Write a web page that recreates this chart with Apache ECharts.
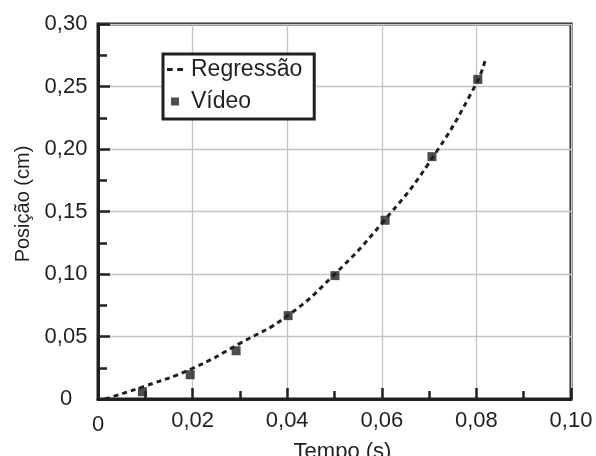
<!DOCTYPE html>
<html>
<head>
<meta charset="utf-8">
<script src="https://cdn.jsdelivr.net/npm/echarts@6/dist/echarts.min.js"></script>
<style>
  html, body { margin: 0; padding: 0; background: #fff; }
  #chart { width: 596px; height: 456px; }
</style>
</head>
<body>
<div id="chart"></div>
<script>
// pontos medidos no video
var tempo   = [0.0094, 0.0195, 0.0292, 0.0402, 0.0501, 0.0607, 0.0706, 0.0803];
var posicao = [0.0058, 0.0194, 0.0386, 0.0667, 0.0987, 0.1430, 0.1939, 0.2557];

// curva de regressao
var regTempo   = [0.0015, 0.01, 0.02, 0.03, 0.04, 0.05, 0.06, 0.07, 0.08, 0.082];
var regPosicao = [0, 0.0104, 0.0245, 0.0445, 0.0664, 0.0997, 0.1405, 0.189, 0.2525, 0.2733];

var xTicks = [0, 0.02, 0.04, 0.06, 0.08, 0.10];
var yTicks = [0, 0.05, 0.10, 0.15, 0.20, 0.25, 0.30];

var ink = '#231f20';
var tickFont = 'Liberation Sans';
var textFont = 'Liberation Sans';

var pairs = function (xs, ys) {
    var res = [];
    for (var i = 0; i < xs.length; i++) {
        res.push([xs[i], ys[i]]);
    }
    return res;
};

var fmt = function (v) {
    if (Math.abs(v) < 1e-9) return '0';
    return v.toFixed(2).replace('.', ',');
};

var chart = echarts.init(document.getElementById('chart'));

var option = {
    backgroundColor: '#fff',
    animation: false,
    grid: {
        left: 98, right: 25, top: 24, bottom: 57,
        show: true,
        borderColor: ink,
        borderWidth: 3,
        outerBoundsMode: 'none'
    },
    legend: {
        orient: 'vertical',
        left: 163,
        top: 54,
        padding: [4, 12, 6, 4],
        itemWidth: 16,
        itemHeight: 8,
        itemGap: 9,
        backgroundColor: '#fff',
        borderColor: ink,
        borderWidth: 3,
        borderRadius: 0,
        textStyle: { fontFamily: textFont, fontSize: 23, color: ink, padding: [0, 0, 0, 3] },
        data: [
            { name: 'Regressão', icon: 'path://M0,0h5v2.5h-5zM9,0h5v2.5h-5z', itemStyle: { color: ink } },
            { name: 'Vídeo', icon: 'path://M0,0h8v8h-8z', itemStyle: { color: ink } }
        ]
    },
    xAxis: {
        type: 'value',
        min: xTicks[0],
        max: xTicks[xTicks.length - 1],
        interval: 0.02,
        name: 'Tempo (s)',
        nameLocation: 'middle',
        nameGap: 35,
        nameTextStyle: { fontFamily: textFont, fontSize: 22, color: ink, padding: [0, 0, 0, 16] },
        axisLine: { onZero: false, lineStyle: { color: ink, width: 3 } },
        axisTick: { inside: true, length: 11, lineStyle: { color: ink, width: 2.5 } },
        minorTick: { show: true, splitNumber: 2, length: 8, lineStyle: { color: ink, width: 2.5 } },
        splitLine: { show: true, lineStyle: { color: '#c4c4c4', width: 1.3 } },
        axisLabel: {
            margin: 11,
            fontFamily: tickFont,
            fontSize: 22,
            color: ink,
            formatter: function (v) {
                return Math.abs(v) < 1e-9 ? '{z|0}' : fmt(v);
            },
            rich: { z: { fontFamily: tickFont, fontSize: 22, color: ink, padding: [4, 0, 0, 0] } }
        }
    },
    yAxis: {
        type: 'value',
        min: yTicks[0],
        max: yTicks[yTicks.length - 1],
        interval: 0.05,
        name: 'Posição (cm)',
        nameLocation: 'middle',
        nameGap: 61,
        nameTextStyle: { fontFamily: textFont, fontSize: 20, color: ink, padding: [0, 0, 0, 15] },
        axisLine: { onZero: false, lineStyle: { color: ink, width: 3 } },
        axisTick: { inside: true, length: 12, lineStyle: { color: ink, width: 2.5 } },
        minorTick: { show: true, splitNumber: 2, length: 9, lineStyle: { color: ink, width: 2.5 } },
        splitLine: { show: true, lineStyle: { color: '#c4c4c4', width: 1.3 } },
        axisLabel: {
            margin: 32,
            align: 'center',
            fontFamily: tickFont,
            fontSize: 22,
            color: ink,
            formatter: fmt
        }
    },
    series: [
        {
            name: 'Regressão',
            type: 'line',
            data: pairs(regTempo, regPosicao),
            smooth: true,
            symbol: 'none',
            showSymbol: false,
            itemStyle: { color: ink },
            lineStyle: { color: ink, width: 3, type: [5, 4] },
            z: 3
        },
        {
            name: 'Vídeo',
            type: 'scatter',
            data: pairs(tempo, posicao),
            symbol: 'rect',
            symbolSize: 9,
            itemStyle: { color: ink },
            z: 4
        }
    ]
};

chart.setOption(option);
</script>
</body>
</html>
